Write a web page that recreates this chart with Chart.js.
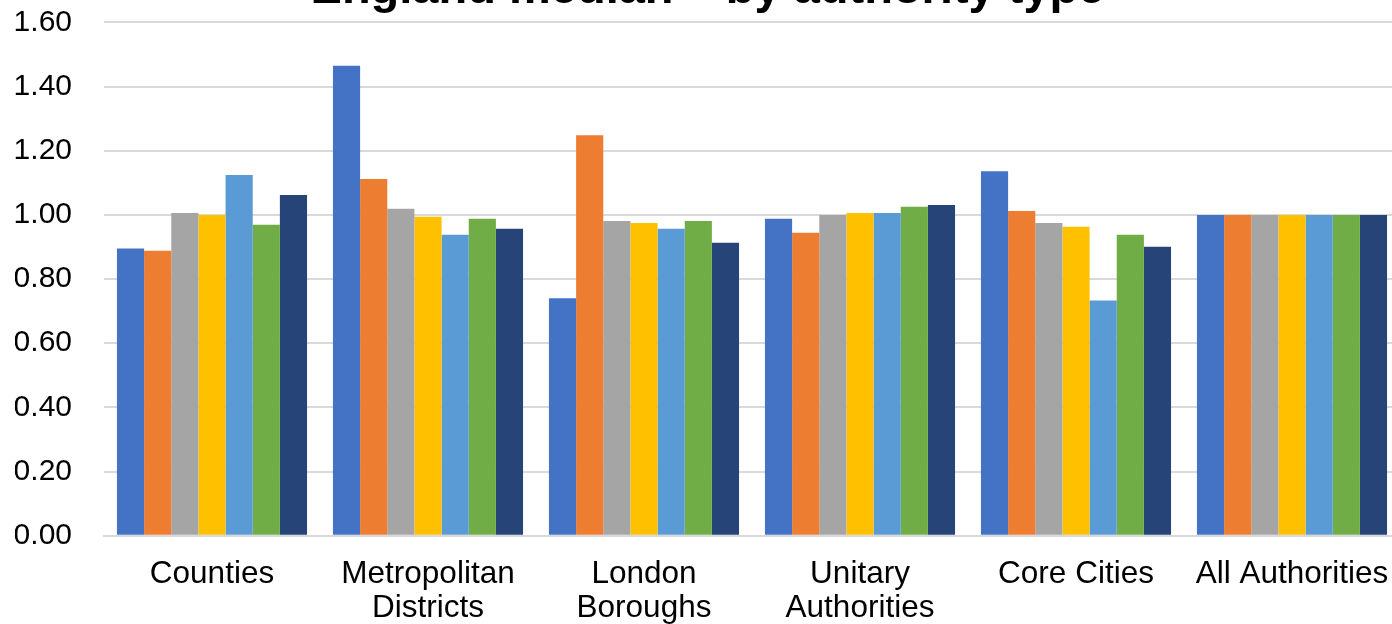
<!DOCTYPE html>
<html>
<head>
<meta charset="utf-8">
<script src="https://cdn.jsdelivr.net/npm/chart.js@4/dist/chart.umd.min.js"></script>
<style>
  html, body { margin: 0; padding: 0; background: #fff; overflow: hidden; width: 1392px; height: 624px; }
  #wrap { position: absolute; left: 0; top: -38px; width: 1400px; height: 685px; }
</style>
</head>
<body>
<div id="wrap"><canvas id="chart" width="1400" height="685"></canvas></div>
<script>
// Authority groups shown along the x axis
const categories = [
  ['Counties'],
  ['Metropolitan', 'Districts'],
  ['London', 'Boroughs'],
  ['Unitary', 'Authorities'],
  ['Core Cities'],
  ['All Authorities']
];

// Ratio to the England median, one array per measure
const measureA = [0.895, 1.465, 0.740, 0.988, 1.136, 1.00];
const measureB = [0.888, 1.112, 1.248, 0.944, 1.012, 1.00];
const measureC = [1.006, 1.019, 0.981, 1.000, 0.975, 1.00];
const measureD = [1.000, 0.994, 0.975, 1.006, 0.963, 1.00];
const measureE = [1.124, 0.938, 0.957, 1.006, 0.733, 1.00];
const measureF = [0.969, 0.988, 0.981, 1.025, 0.938, 1.00];
const measureG = [1.062, 0.957, 0.913, 1.031, 0.901, 1.00];

const seriesNames = ['Measure A', 'Measure B', 'Measure C', 'Measure D', 'Measure E', 'Measure F', 'Measure G'];
const seriesValues = [measureA, measureB, measureC, measureD, measureE, measureF, measureG];
const seriesColors = ['#4472C4', '#ED7D31', '#A5A5A5', '#FFC000', '#5B9BD5', '#70AD47', '#264478'];

const titleText = 'England median \u2013 by authority type';
const FONT = 'Liberation Sans, Arial, sans-serif';

const datasets = seriesNames.map((name, i) => ({
  label: name,
  data: seriesValues[i],
  backgroundColor: seriesColors[i],
  borderWidth: 0,
  barPercentage: 1.0,
  categoryPercentage: 0.88
}));

new Chart(document.getElementById('chart'), {
  type: 'bar',
  data: { labels: categories, datasets },
  options: {
    responsive: false,
    animation: false,
    devicePixelRatio: 1,
    layout: { padding: { left: 15, right: 0, top: 0, bottom: 0 } },
    plugins: {
      legend: { display: false },
      tooltip: { enabled: false },
      title: {
        display: true,
        text: titleText,
        color: '#000',
        font: { family: FONT, size: 47, weight: 'bold', lineHeight: 1.2 },
        padding: { top: 0, bottom: 4 }
      }
    },
    scales: {
      x: {
        // category labels may run to the canvas edge; keep the full width for bars
        afterFit(scale) { scale.paddingLeft = 0; scale.paddingRight = 0; },
        grid: { display: false, drawTicks: false },
        border: { display: true, color: '#D9D9D9', width: 2 },
        ticks: {
          color: '#000',
          padding: 21,
          maxRotation: 0,
          autoSkip: false,
          font: { family: FONT, size: 31.5, lineHeight: 1.1 }
        }
      },
      y: {
        min: 0,
        max: 1.6,
        afterFit(scale) { scale.width = 89; },
        grid: { color: '#D9D9D9', lineWidth: 2, drawTicks: false },
        border: { display: false },
        ticks: {
          stepSize: 0.2,
          color: '#000',
          padding: 32,
          font: { family: FONT, size: 30 },
          callback: v => Number(v).toFixed(2)
        }
      }
    }
  }
});
</script>
</body>
</html>
